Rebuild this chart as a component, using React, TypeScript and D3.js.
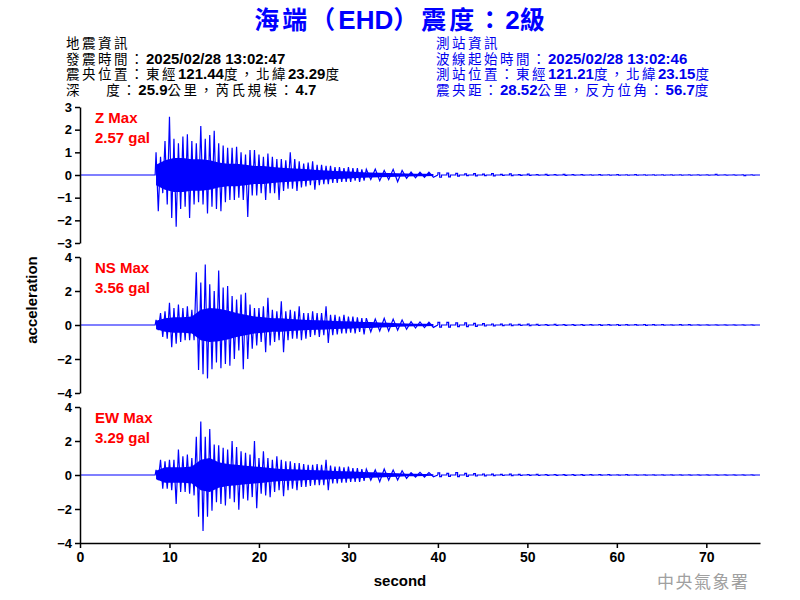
import React, { useEffect, useRef } from 'react';
import * as d3 from 'd3';

// peak values: one [hi, lo] pair every 0.5 s from 8.5 s
const peakStart = 8.5;
const peakStep = 0.5;
// then one pair every second from 32 s
const tailStart = 32;
const tailStep = 1;
// from here on the coda is drawn as small blocky blips
const codaFrom = 40;
// half-width of the solid band, one value every second from 8.5 s
const coreStart = 8.5;
const coreStep = 1;

const zHi = [1.0, 0.8, 1.5, 2.57, 1.6, 1.4, 1.7, 1.8, 1.5, 1.4, 2.16, 1.6, 1.76, 1.95, 1.4, 1.3, 1.2, 1.2, 1.25, 1.0,
  0.9, 1.1, 1.1, 0.9, 0.8, 0.95, 0.8, 0.7, 0.7, 0.65, 1.0, 0.7, 0.6, 0.5, 0.55, 0.6, 0.45, 0.45, 0.4, 0.4,
  0.35, 0.35, 0.3, 0.35, 0.3, 0.3, 0.25];
const zLo = [-1.6, -0.8, -1.3, -1.9, -2.28, -1.5, -1.4, -1.9, -1.3, -1.2, -1.3, -1.7, -1.4, -1.5, -1.6, -1.2, -1.1, -1.1, -1.0, -1.1,
  -1.85, -0.9, -0.9, -0.8, -1.1, -0.8, -0.8, -1.1, -0.7, -0.6, -0.6, -0.7, -0.55, -0.5, -0.45, -0.65, -0.45, -0.4, -0.4, -0.35,
  -0.35, -0.3, -0.3, -0.3, -0.25, -0.3, -0.25];
const zTailHi = [0.25, 0.26, 0.2, 0.25, 0.2, 0.13, 0.12, 0.13, 0.1, 0.08, 0.07, 0.05, 0.06, 0.04, 0.06, 0.03, 0.05, 0.02, 0.04, 0.02,
  0.03, 0.02, 0.03, 0.02, 0.02, 0.01, 0.02, 0.01, 0.02, 0.01, 0.02, 0.01, 0.01, 0.01, 0.01, 0.01, 0.01, 0.01, 0.01, 0.03,
  0.01, 0.01, 0.01, 0.01];
const zTailLo = [-0.2, -0.25, -0.2, -0.3, -0.15, -0.12, -0.1, -0.1, -0.1, -0.08, -0.05, -0.03, -0.04, -0.03, -0.04, -0.02, -0.03, -0.02, -0.02, -0.01,
  -0.02, -0.01, -0.02, -0.01, -0.01, -0.01, -0.01, -0.01, -0.01, -0.01, -0.01, -0.01, -0.01, -0.01, -0.01, -0.01, -0.01, -0.01, -0.01, -0.01,
  -0.01, -0.01, -0.03, -0.01];
const zCore = [0.45, 0.65, 0.75, 0.75, 0.7, 0.7, 0.65, 0.55, 0.5, 0.5, 0.45, 0.4, 0.4, 0.35, 0.32, 0.3, 0.28, 0.25, 0.22, 0.2,
  0.18, 0.16, 0.14, 0.12, 0.11, 0.1, 0.09, 0.08, 0.07, 0.06, 0.05, 0.04];

const nsHi = [0.3, 0.7, 0.8, 1.3, 1.0, 1.2, 1.0, 1.1, 0.9, 3.1, 2.5, 3.56, 2.4, 2.0, 3.2, 2.2, 2.3, 1.7, 1.5, 1.8,
  1.9, 1.2, 1.0, 1.0, 1.1, 1.6, 0.9, 0.8, 1.4, 0.8, 0.9, 0.8, 1.1, 0.7, 0.7, 0.8, 0.7, 0.7, 1.1, 0.6,
  0.6, 0.5, 0.6, 0.5, 0.5, 0.45, 0.4];
const nsLo = [-0.3, -0.7, -0.8, -1.3, -1.1, -1.0, -0.9, -0.9, -0.9, -2.65, -2.9, -3.14, -2.6, -2.2, -2.55, -2.3, -2.4, -2.0, -1.5, -2.6,
  -2.0, -1.4, -1.2, -1.0, -1.6, -1.2, -1.0, -0.9, -1.6, -0.9, -0.8, -0.8, -0.9, -0.8, -0.7, -0.6, -0.7, -0.6, -1.05, -0.6,
  -0.55, -0.5, -0.5, -0.45, -0.5, -0.4, -0.55];
const nsTailHi = [0.4, 0.35, 0.4, 0.35, 0.3, 0.2, 0.18, 0.16, 0.16, 0.15, 0.12, 0.12, 0.1, 0.08, 0.06, 0.05, 0.06, 0.04, 0.05, 0.04,
  0.03, 0.04, 0.03, 0.03, 0.03, 0.02, 0.03, 0.02, 0.03, 0.02, 0.02, 0.03, 0.02, 0.02, 0.01, 0.02, 0.02, 0.01, 0.01, 0.01,
  0.01, 0.01, 0.01, 0.01];
const nsTailLo = [-0.4, -0.35, -0.35, -0.3, -0.25, -0.18, -0.15, -0.14, -0.12, -0.12, -0.1, -0.1, -0.08, -0.06, -0.05, -0.04, -0.04, -0.03, -0.04, -0.03,
  -0.02, -0.03, -0.02, -0.02, -0.02, -0.01, -0.02, -0.01, -0.02, -0.01, -0.01, -0.02, -0.01, -0.01, -0.01, -0.01, -0.01, -0.01, -0.01, -0.01,
  -0.01, -0.01, -0.01, -0.01];
const nsCore = [0.25, 0.4, 0.45, 0.45, 0.5, 0.9, 1.0, 0.95, 0.85, 0.7, 0.6, 0.5, 0.45, 0.4, 0.4, 0.36, 0.33, 0.3, 0.28, 0.26,
  0.24, 0.22, 0.2, 0.18, 0.17, 0.15, 0.13, 0.11, 0.09, 0.08, 0.07, 0.06];

const ewHi = [0.3, 0.9, 0.8, 0.9, 0.9, 1.5, 1.1, 1.2, 1.0, 2.25, 3.14, 2.25, 2.7, 1.8, 1.75, 1.6, 1.5, 2.0, 1.65, 1.4,
  1.3, 1.2, 2.0, 1.0, 1.4, 1.0, 0.9, 1.1, 0.9, 0.8, 0.8, 0.7, 0.7, 0.65, 0.6, 0.6, 0.65, 0.6, 0.9, 0.55,
  0.5, 0.5, 0.45, 0.5, 0.4, 0.4, 0.35];
const ewLo = [-0.3, -0.8, -0.8, -0.9, -1.7, -1.0, -1.0, -1.1, -1.2, -2.45, -3.29, -2.45, -2.1, -1.6, -1.7, -1.8, -1.4, -1.6, -2.05, -1.4,
  -1.5, -1.3, -1.95, -1.1, -1.2, -1.3, -1.0, -0.9, -1.25, -0.9, -0.8, -0.9, -0.7, -0.7, -0.65, -0.6, -0.6, -0.6, -0.9, -0.5,
  -0.5, -0.45, -0.45, -0.4, -0.4, -0.4, -0.35];
const ewTailHi = [0.35, 0.3, 0.35, 0.3, 0.25, 0.14, 0.15, 0.14, 0.12, 0.1, 0.14, 0.1, 0.08, 0.06, 0.05, 0.04, 0.05, 0.04, 0.03, 0.04,
  0.03, 0.03, 0.02, 0.03, 0.02, 0.02, 0.02, 0.02, 0.01, 0.02, 0.01, 0.01, 0.01, 0.01, 0.01, 0.01, 0.01, 0.01, 0.01, 0.01,
  0.01, 0.01, 0.01, 0.01];
const ewTailLo = [-0.3, -0.4, -0.3, -0.3, -0.2, -0.12, -0.12, -0.1, -0.1, -0.08, -0.1, -0.08, -0.06, -0.05, -0.04, -0.03, -0.04, -0.03, -0.02, -0.03,
  -0.02, -0.02, -0.02, -0.02, -0.02, -0.01, -0.01, -0.01, -0.01, -0.01, -0.01, -0.01, -0.01, -0.01, -0.01, -0.01, -0.01, -0.01, -0.01, -0.01,
  -0.01, -0.01, -0.01, -0.01];
const ewCore = [0.25, 0.45, 0.45, 0.45, 0.5, 0.9, 1.0, 0.75, 0.65, 0.6, 0.55, 0.5, 0.45, 0.4, 0.36, 0.34, 0.32, 0.3, 0.28, 0.26,
  0.24, 0.22, 0.2, 0.18, 0.16, 0.14, 0.12, 0.1, 0.08, 0.07, 0.06, 0.05];

const channels = ['Z', 'NS', 'EW'];
const maxLabels = ['2.57 gal', '3.56 gal', '3.29 gal'];
const yTicks = [[-3, -2, -1, 0, 1, 2, 3], [-4, -2, 0, 2, 4], [-4, -2, 0, 2, 4]];
const xTicks = [0, 10, 20, 30, 40, 50, 60, 70];
const onset = 8.4;
const duration = 76;

const title = '海端（EHD）震度：2級';
const quakeInfo = ['地震資訊', '發震時間：2025/02/28 13:02:47', '震央位置：東經121.44度，北緯23.29度', '深\u3000  度：25.9公里，芮氏規模：4.7'];
const stationInfo = ['測站資訊', '波線起始時間：2025/02/28 13:02:46', '測站位置：東經121.21度，北緯23.15度', '震央距：28.52公里，反方位角：56.7度'];

const LATIN = "'Liberation Sans', Arial, sans-serif";
const CJK = "'Noto Sans CJK TC', 'Noto Sans CJK SC', sans-serif";

// split a string into CJK and latin runs so each can get its own font
function runs(s: string) {
  const out: { t: string; cjk: boolean }[] = [];
  for (const ch of s) {
    const c = /[\u3000-\u9fff\uff00-\uffef]/.test(ch);
    const last = out[out.length - 1];
    if (last && last.cjk === c) last.t += ch;
    else out.push({ t: ch, cjk: c });
  }
  return out;
}

function mixedText(sel: any, s: string, opts: { cjkSize: number; latinSize: number; cjkWeight: string; latinWeight: string; cjkSpacing?: number }) {
  runs(s).forEach(r => {
    sel.append('tspan')
      .attr('font-family', r.cjk ? CJK : LATIN)
      .attr('font-size', r.cjk ? opts.cjkSize : opts.latinSize)
      .attr('font-weight', r.cjk ? opts.cjkWeight : opts.latinWeight)
      .attr('letter-spacing', r.cjk ? (opts.cjkSpacing ?? 0) : 0)
      .text(r.t);
  });
}

const App: React.FC = () => {
  const svgRef = useRef<SVGSVGElement>(null);

  useEffect(() => {
    if (!svgRef.current) return;
    const svg = d3.select(svgRef.current);
    svg.selectAll('*').remove();

    const x = d3.scaleLinear().domain([0, duration]).range([80, 760]);

    const series = [
      { hi: zHi, lo: zLo, tHi: zTailHi, tLo: zTailLo, core: zCore },
      { hi: nsHi, lo: nsLo, tHi: nsTailHi, tLo: nsTailLo, core: nsCore },
      { hi: ewHi, lo: ewLo, tHi: ewTailHi, tLo: ewTailLo, core: ewCore },
    ];
    const panelTop = [107, 257, 407];
    const panelH = 136;

    channels.forEach((ch, k) => {
      const ticks = yTicks[k];
      const lim = ticks[ticks.length - 1];
      const y = d3.scaleLinear().domain([-lim, lim]).range([panelTop[k] + panelH, panelTop[k]]);
      const s = series[k];

      // solid band where the trace is too dense to resolve
      const band = d3.area<number>()
        .x((_d, i) => x(coreStart + i * coreStep))
        .y0(d => y(-d))
        .y1(d => y(d));
      svg.append('path')
        .attr('d', band(s.core) as string)
        .attr('fill', '#0000ff');

      // trace: alternate between the read peaks
      const pts: [number, number][] = [[0, 0], [onset, 0]];
      const coda: [number, number][] = [[codaFrom, 0]];
      s.hi.forEach((v, i) => {
        const t = peakStart + i * peakStep;
        pts.push([t, v], [t + peakStep / 2, s.lo[i]]);
      });
      s.tHi.forEach((v, i) => {
        const t = tailStart + i * tailStep;
        if (t < codaFrom) pts.push([t, v], [t + tailStep / 2, s.tLo[i]]);
        else coda.push([t, v], [t + tailStep * 0.2, s.tLo[i]], [t + tailStep * 0.4, 0]);
      });
      pts.push([codaFrom, 0]);
      coda.push([duration, 0]);

      const line = d3.line<[number, number]>().x(d => x(d[0])).y(d => y(d[1]));
      svg.append('path')
        .attr('d', line(pts) as string)
        .attr('fill', 'none')
        .attr('stroke', '#0000ff')
        .attr('stroke-width', 1.2);

      const stepLine = d3.line<[number, number]>().x(d => x(d[0])).y(d => y(d[1])).curve(d3.curveStepAfter);
      svg.append('path')
        .attr('d', stepLine(coda) as string)
        .attr('fill', 'none')
        .attr('stroke', '#0000ff')
        .attr('stroke-width', 1.2);

      const ax = svg.append('g')
        .attr('transform', 'translate(80,0)')
        .call(d3.axisLeft(y).tickValues(ticks).tickSize(5).tickSizeOuter(0).tickPadding(3).tickFormat(d3.format('d')));
      ax.selectAll('path, line').attr('stroke', '#000').attr('stroke-width', 1.5);
      ax.selectAll('text')
        .attr('font-family', LATIN)
        .attr('font-size', 13)
        .attr('font-weight', 'bold')
        .attr('fill', '#000');

      svg.append('text')
        .attr('x', 95).attr('y', panelTop[k] + 16)
        .attr('font-family', LATIN).attr('font-size', 15).attr('font-weight', 'bold')
        .attr('fill', '#ff0000')
        .text(`${ch} Max`);
      svg.append('text')
        .attr('x', 95).attr('y', panelTop[k] + 36)
        .attr('font-family', LATIN).attr('font-size', 15).attr('font-weight', 'bold')
        .attr('fill', '#ff0000')
        .text(maxLabels[k]);
    });

    const xa = svg.append('g')
      .attr('transform', 'translate(0,543)')
      .call(d3.axisBottom(x).tickValues(xTicks).tickSize(5).tickSizeOuter(0).tickPadding(4));
    xa.selectAll('path, line').attr('stroke', '#000').attr('stroke-width', 1.5);
    xa.selectAll('text')
      .attr('font-family', LATIN)
      .attr('font-size', 14)
      .attr('font-weight', 'bold')
      .attr('fill', '#000');

    svg.append('text')
      .attr('x', 400).attr('y', 586)
      .attr('text-anchor', 'middle')
      .attr('font-family', LATIN).attr('font-size', 15).attr('font-weight', 'bold')
      .text('second');

    svg.append('text')
      .attr('transform', 'translate(37,300) rotate(-90)')
      .attr('text-anchor', 'middle')
      .attr('font-family', LATIN).attr('font-size', 15).attr('font-weight', 'bold')
      .text('acceleration');

    // title and header blocks
    const t = svg.append('text')
      .attr('x', 401).attr('y', 29)
      .attr('text-anchor', 'middle')
      .attr('fill', '#0000ff');
    mixedText(t, title, { cjkSize: 25, latinSize: 26, cjkWeight: 'bold', latinWeight: 'bold', cjkSpacing: 3 });

    const headOpts = { cjkSize: 13.5, latinSize: 15, cjkWeight: 'normal', latinWeight: 'bold', cjkSpacing: 2.5 };
    quakeInfo.forEach((line, i) => {
      const el = svg.append('text')
        .attr('x', 66).attr('y', 48 + i * 15.6)
        .attr('fill', '#000')
        .style('white-space', 'pre');
      mixedText(el, line, headOpts);
    });
    stationInfo.forEach((line, i) => {
      const el = svg.append('text')
        .attr('x', 436).attr('y', 48 + i * 15.6)
        .attr('fill', '#0000ee')
        .style('white-space', 'pre');
      mixedText(el, line, headOpts);
    });

    svg.append('text')
      .attr('x', 657).attr('y', 588)
      .attr('font-family', CJK).attr('font-size', 17)
      .attr('letter-spacing', 1.5)
      .attr('fill', '#a0a0a0')
      .text('中央氣象署');
  }, []);

  return (
    <svg
      ref={svgRef}
      width={800}
      height={600}
      style={{ position: 'absolute', left: 0, top: 0, background: '#fff' }}
    />
  );
};

export default App;
